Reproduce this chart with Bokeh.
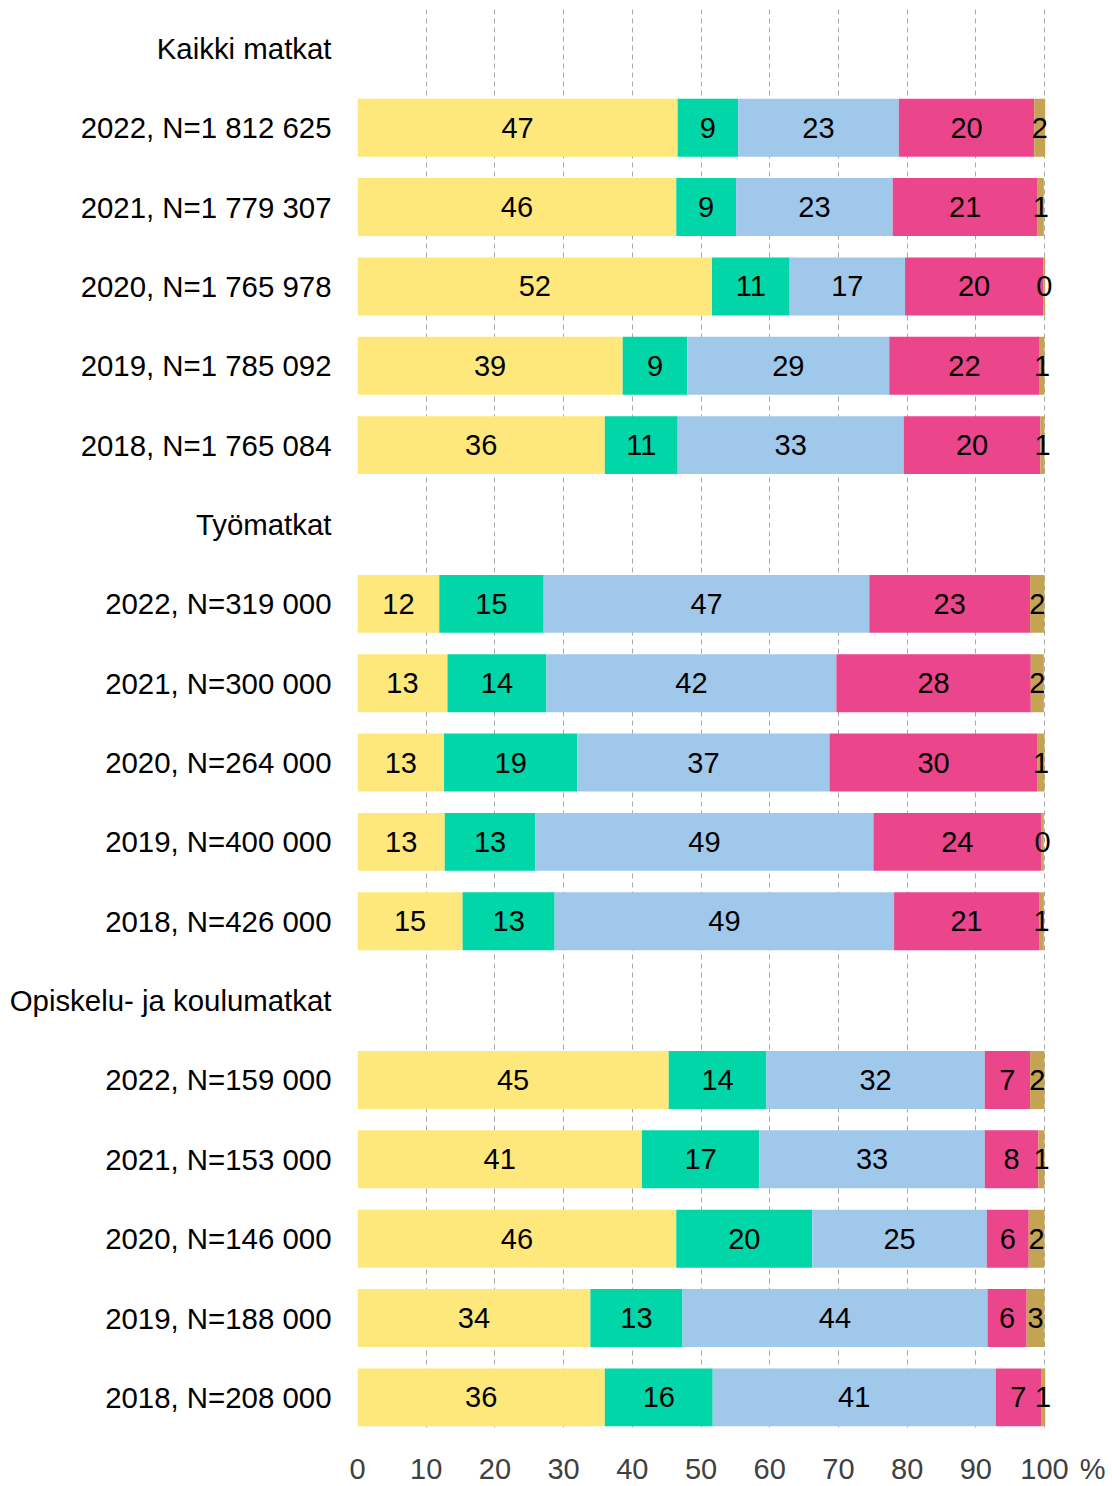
import numpy as np
from bokeh.plotting import figure
from bokeh.models import ColumnDataSource, Range1d, FixedTicker
from bokeh.core.properties import value
from bokeh.embed import file_html
from bokeh.resources import INLINE

# ---- data ----
groups = ["Kaikki matkat", "Työmatkat", "Opiskelu- ja koulumatkat"]
years = [2022, 2021, 2020, 2019, 2018]
n_kaikki = ["1 812 625", "1 779 307", "1 765 978", "1 785 092", "1 765 084"]
n_tyo = ["319 000", "300 000", "264 000", "400 000", "426 000"]
n_opiskelu = ["159 000", "153 000", "146 000", "188 000", "208 000"]

series_names = ["s1", "s2", "s3", "s4", "s5"]
s1 = [46.6, 46.4, 51.6, 38.6, 36.0, 11.9, 13.1, 12.6, 12.7, 15.3, 45.3, 41.4, 46.4, 33.9, 36.0]
s2 = [8.8, 8.7, 11.3, 9.4, 10.6, 15.2, 14.4, 19.4, 13.2, 13.4, 14.2, 17.1, 19.8, 13.4, 15.7]
s3 = [23.4, 22.8, 16.8, 29.4, 32.9, 47.4, 42.2, 36.7, 49.2, 49.4, 31.8, 32.8, 25.4, 44.4, 41.2]
s4 = [19.7, 21.1, 20.1, 21.9, 19.9, 23.4, 28.3, 30.3, 24.4, 21.1, 6.6, 7.8, 6.1, 5.7, 6.6]
s5 = [1.6, 0.9, 0.3, 0.7, 0.6, 2.1, 1.9, 1.0, 0.4, 0.7, 2.1, 0.9, 2.3, 2.6, 0.6]
colors = ["#FEE87B", "#00D6A7", "#A0C8EA", "#EB468C", "#C4A352"]
x_ticks = [0, 10, 20, 30, 40, 50, 60, 70, 80, 90, 100]
unit_label = "%"
UNIT_POS = 107  # position of the unit label after the last tick

# ---- layout of category rows ----
row_labels = {}
ys = []
idx = 0
for g, ns in zip(groups, [n_kaikki, n_tyo, n_opiskelu]):
    row_labels[idx] = g
    idx += 1
    for yr, n in zip(years, ns):
        row_labels[idx] = f"{yr}, N={n}"
        ys.append(idx)
        idx += 1

src = ColumnDataSource(dict(y=ys, s1=s1, s2=s2, s3=s3, s4=s4, s5=s5))

p = figure(frame_width=742, frame_height=1422,
           x_range=Range1d(0, 108), y_range=Range1d(17.43, -0.49),
           output_backend="svg", toolbar_location=None,
           min_border_left=357, min_border_right=10, min_border_top=9, min_border_bottom=53)
p.outline_line_color = None
p.background_fill_color = "white"

p.hbar_stack(series_names, y="y", height=0.73, color=colors, line_color=None, source=src)

# value labels
left = np.zeros(len(ys))
tx, ty, tt = [], [], []
for s in [s1, s2, s3, s4, s5]:
    arr = np.array(s)
    for i in range(len(ys)):
        tx.append(left[i] + arr[i] / 2)
        ty.append(ys[i])
        tt.append(str(int(round(arr[i]))))
    left = left + arr
p.text(x=tx, y=ty, text=tt, text_align="center", text_baseline="middle",
       text_font=value("Liberation Sans"), text_font_size="29px", text_color="black")

# axes
xa = p.xaxis[0]
xa.ticker = FixedTicker(ticks=x_ticks + [UNIT_POS])
xa.major_label_overrides = {UNIT_POS: unit_label}
xa.axis_line_color = None
xa.major_tick_line_color = None
xa.minor_tick_line_color = None
xa.major_tick_out = 0
xa.major_label_text_font = "Liberation Sans"
xa.major_label_text_font_size = "29px"
xa.major_label_text_color = "#404040"
xa.major_label_standoff = 21

ya = p.yaxis[0]
ya.ticker = FixedTicker(ticks=list(range(idx)))
ya.major_label_overrides = {k: v for k, v in row_labels.items()}
ya.axis_line_color = None
ya.major_tick_line_color = None
ya.minor_tick_line_color = None
ya.major_tick_out = 0
ya.major_label_text_font = "Liberation Sans"
ya.major_label_text_font_size = "29.4px"
ya.major_label_text_color = "black"
ya.major_label_standoff = 26

p.xgrid.ticker = FixedTicker(ticks=x_ticks)
p.xgrid.grid_line_color = "#a8a8a8"
p.xgrid.grid_line_dash = "5 4"
p.xgrid.grid_line_width = 1
p.ygrid.grid_line_color = None

open("out.html", "w").write(file_html(p, INLINE))
